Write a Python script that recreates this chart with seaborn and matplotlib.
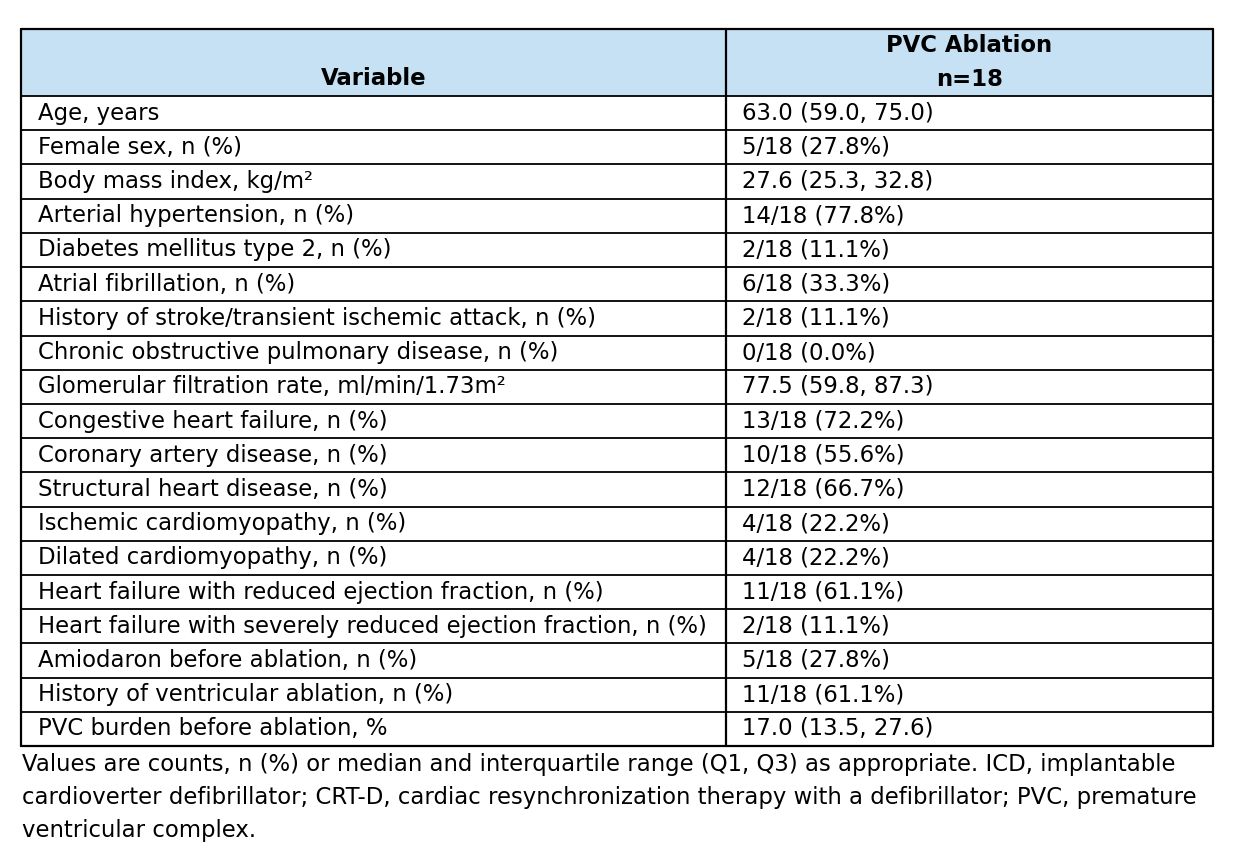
import matplotlib
matplotlib.use("Agg")
import matplotlib.pyplot as plt
import seaborn as sns

variables = [
    "Age, years",
    "Female sex, n (%)",
    "Body mass index, kg/m\u00b2",
    "Arterial hypertension, n (%)",
    "Diabetes mellitus type 2, n (%)",
    "Atrial fibrillation, n (%)",
    "History of stroke/transient ischemic attack, n (%)",
    "Chronic obstructive pulmonary disease, n (%)",
    "Glomerular filtration rate, ml/min/1.73m\u00b2",
    "Congestive heart failure, n (%)",
    "Coronary artery disease, n (%)",
    "Structural heart disease, n (%)",
    "Ischemic cardiomyopathy, n (%)",
    "Dilated cardiomyopathy, n (%)",
    "Heart failure with reduced ejection fraction, n (%)",
    "Heart failure with severely reduced ejection fraction, n (%)",
    "Amiodaron before ablation, n (%)",
    "History of ventricular ablation, n (%)",
    "PVC burden before ablation, %",
]
pvc_ablation = [
    "63.0 (59.0, 75.0)",
    "5/18 (27.8%)",
    "27.6 (25.3, 32.8)",
    "14/18 (77.8%)",
    "2/18 (11.1%)",
    "6/18 (33.3%)",
    "2/18 (11.1%)",
    "0/18 (0.0%)",
    "77.5 (59.8, 87.3)",
    "13/18 (72.2%)",
    "10/18 (55.6%)",
    "12/18 (66.7%)",
    "4/18 (22.2%)",
    "4/18 (22.2%)",
    "11/18 (61.1%)",
    "2/18 (11.1%)",
    "5/18 (27.8%)",
    "11/18 (61.1%)",
    "17.0 (13.5, 27.6)",
]
col_headers = ["Variable", "PVC Ablation\nn=18"]
footnote_lines = [
    "Values are counts, n (%) or median and interquartile range (Q1, Q3) as appropriate. ICD, implantable",
    "cardioverter defibrillator; CRT-D, cardiac resynchronization therapy with a defibrillator; PVC, premature",
    "ventricular complex.",
]

sns.set_theme(style="white")
plt.rcParams['font.family'] = ['DejaVu Sans']
plt.rcParams['text.color'] = 'black'

W, H = 1238, 860
fig = plt.figure(figsize=(W / 100, H / 100), dpi=100)
left, right, top, bottom = 21, 1213, 29, 746
ax = fig.add_axes([left / W, 1 - bottom / H, (right - left) / W, (bottom - top) / H])

n = len(variables)
head_h = 1.96
split = (726 - left) / (right - left)
ax.set_xlim(0, 1)
ax.set_ylim(n + head_h, 0)
ax.axis("off")

fs = 16.4
ax.axhspan(0, head_h, color="#c6e0f4", lw=0)
ax.text(split / 2, head_h - 0.5, col_headers[0], ha="center", va="center", fontsize=fs, fontweight="bold")
ax.text((1 + split) / 2, head_h / 2, col_headers[1], ha="center", va="center", fontsize=fs,
        fontweight="bold", linespacing=1.6)

pad = 17 / (right - left)
for i, (v, p) in enumerate(zip(variables, pvc_ablation)):
    y = head_h + i + 0.5
    ax.text(pad, y, v, ha="left", va="center", fontsize=fs)
    ax.text(split + pad * 0.95, y, p, ha="left", va="center", fontsize=fs)

for i in range(n + 1):
    ax.axhline(head_h + i, color="black", lw=1.3, clip_on=False)
ax.axhline(0, color="black", lw=1.6, clip_on=False)
ax.axhline(n + head_h, color="black", lw=1.6, clip_on=False)
for x in [0, split, 1]:
    ax.axvline(x, color="black", lw=1.6, clip_on=False)

for k, line in enumerate(footnote_lines):
    fig.text(22 / W, 1 - (765 + 32.5 * k) / H, line, ha="left", va="center", fontsize=fs)

fig.savefig("out.png", dpi=100)
